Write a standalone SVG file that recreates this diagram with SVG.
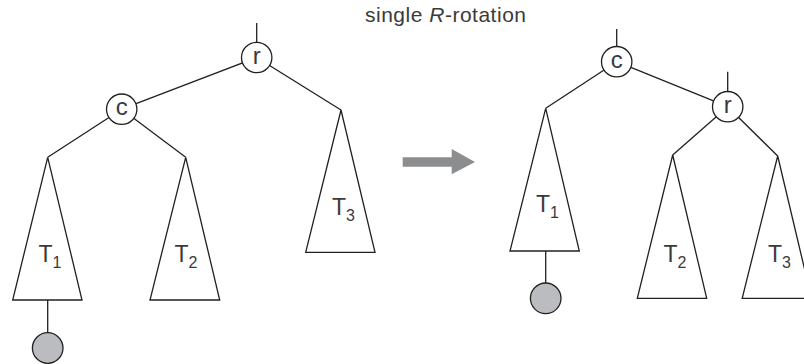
<svg xmlns="http://www.w3.org/2000/svg" width="804" height="364" viewBox="0 0 804 364">
<defs>
<style>
.ln{stroke:#231f20;stroke-width:1.3;fill:none}
.tri{stroke:#231f20;stroke-width:1.3;fill:#fff;stroke-linejoin:miter}
.nd{stroke:#231f20;stroke-width:1.3;fill:#fff}
.leaf{stroke:#231f20;stroke-width:1.3;fill:#bbbcbf}
.t{font-family:"Liberation Sans",Arial,sans-serif;fill:#3a3a3a}
.lbl{font-size:23px}
.nl{font-size:24px;text-anchor:middle}
.sub{font-size:16px}
</style>
</defs>
<rect width="804" height="364" fill="#fff"/>
<text class="t" x="365" y="21.5" font-size="21" textLength="161" lengthAdjust="spacing">single <tspan font-style="italic">R</tspan>-rotation</text>

<g id="connectors">
<line class="ln" x1="256.7" y1="23" x2="256.7" y2="57.5"/>
<line class="ln" x1="256.7" y1="57.5" x2="121.7" y2="109.2"/>
<line class="ln" x1="256.7" y1="57.5" x2="341" y2="110"/>
<line class="ln" x1="121.7" y1="109.2" x2="47.7" y2="157.3"/>
<line class="ln" x1="121.7" y1="109.2" x2="185.7" y2="157.3"/>
<line class="ln" x1="47.7" y1="300" x2="47.7" y2="340"/>
<line class="ln" x1="616.7" y1="29" x2="616.7" y2="61.7"/>
<line class="ln" x1="727.7" y1="71.7" x2="727.7" y2="106.7"/>
<line class="ln" x1="616.7" y1="61.7" x2="727.7" y2="106.7"/>
<line class="ln" x1="616.7" y1="61.7" x2="545.7" y2="108.3"/>
<line class="ln" x1="727.7" y1="106.7" x2="672.7" y2="155"/>
<line class="ln" x1="727.7" y1="106.7" x2="777.7" y2="156"/>
<line class="ln" x1="545.7" y1="251" x2="545.7" y2="290"/>
</g>

<g id="arrow">
<polygon points="402.7,157.3 451.7,157.3 451.7,149 475,162 451.7,174.3 451.7,166.7 402.7,166.7" fill="#8c8d8f"/>
</g>

<g id="L-r"><circle class="nd" cx="256.7" cy="57.5" r="15.2"/><text class="t nl" x="256.7" y="63.5">r</text></g>
<g id="L-c"><circle class="nd" cx="121.7" cy="109.2" r="15.2"/><text class="t nl" x="121.7" y="115.2">c</text></g>
<g id="L-T1"><polygon class="tri" points="47.7,157.3 82,300 12.7,300"/><text class="t lbl" x="38.5" y="262">T<tspan class="sub" dy="6">1</tspan></text></g>
<g id="L-T2"><polygon class="tri" points="185.7,157.3 219.7,300 150,300"/><text class="t lbl" x="174.5" y="262">T<tspan class="sub" dy="6">2</tspan></text></g>
<g id="L-T3"><polygon class="tri" points="341,110 375,252.3 305.7,252.3"/><text class="t lbl" x="332" y="214.5">T<tspan class="sub" dy="6">3</tspan></text></g>
<g id="L-leaf"><circle class="leaf" cx="47.7" cy="348" r="15.3"/></g>

<g id="R-c"><circle class="nd" cx="616.7" cy="61.7" r="15.2"/><text class="t nl" x="616.7" y="67.7">c</text></g>
<g id="R-r"><circle class="nd" cx="727.7" cy="106.7" r="15.2"/><text class="t nl" x="727.7" y="112.7">r</text></g>
<g id="R-T1"><polygon class="tri" points="545.7,108.3 579.3,251 510,251"/><text class="t lbl" x="536" y="211.5">T<tspan class="sub" dy="6">1</tspan></text></g>
<g id="R-T2"><polygon class="tri" points="672.7,155 706.7,298.3 637.3,298.3"/><text class="t lbl" x="663.5" y="261.5">T<tspan class="sub" dy="6">2</tspan></text></g>
<g id="R-T3"><polygon class="tri" points="777.7,156 811.5,298.3 742.2,298.3"/><text class="t lbl" x="768" y="261.5">T<tspan class="sub" dy="6">3</tspan></text></g>
<g id="R-leaf"><circle class="leaf" cx="545.7" cy="298.3" r="15.3"/></g>
</svg>
